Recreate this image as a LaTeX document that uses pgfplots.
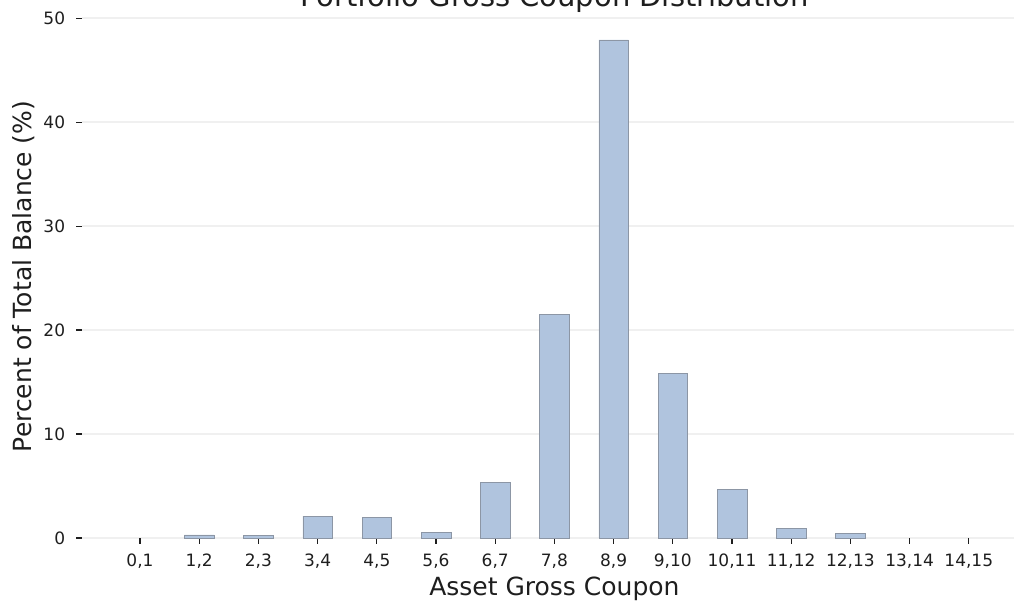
\documentclass[border=0pt]{standalone}
\usepackage{fontspec}
\setmainfont{DejaVu Sans}
\usepackage{pgfplots}
\pgfplotsset{compat=1.18}
\definecolor{barfill}{RGB}{176,196,222}
\definecolor{baredge}{RGB}{140,150,165}
\definecolor{gridc}{RGB}{240,240,240}
\definecolor{txt}{RGB}{30,30,30}
\begin{document}
\begin{tikzpicture}
\begin{axis}[
  scale only axis, width=944.2pt, height=523pt,
  xmin=-0.975, xmax=14.975, ymin=0, ymax=50.3,
  ybar, bar width=0.5, bar shift=0pt,
  xtick={0,...,14},
  xticklabels={{0,1},{1,2},{2,3},{3,4},{4,5},{5,6},{6,7},{7,8},{8,9},{9,10},{10,11},{11,12},{12,13},{13,14},{14,15}},
  ytick={0,10,20,30,40,50},
  tick align=outside, major tick length=6pt,
  tick style={color=txt, line width=1.1pt},
  tick pos=left,
  axis line style={draw=none},
  ymajorgrids, grid style={gridc, line width=1.6pt},
  /pgf/number format/assume math mode=true,
  ticklabel style={font=\fontsize{17pt}{20pt}\selectfont, text=txt},
  yticklabel style={anchor=east, inner sep=0pt, xshift=-11pt},
  xticklabel style={anchor=north, inner sep=0pt, yshift=-10pt},
  title={Portfolio Gross Coupon Distribution},
  title style={at={(axis description cs:0.5,1)}, anchor=base, yshift=2pt, font=\fontsize{29pt}{34pt}\selectfont, text=txt},
  xlabel={Asset Gross Coupon},
  xlabel style={at={(axis description cs:0.5,0)}, anchor=base, yshift=-58pt, font=\fontsize{25pt}{30pt}\selectfont, text=txt},
  ylabel={Percent of Total Balance (\%)},
  ylabel style={at={(axis description cs:0,0.5)}, anchor=base, yshift=51pt, font=\fontsize{25pt}{30pt}\selectfont, text=txt},
  clip=false,
]
% zero-height bars (0,1), (13,14), (14,15) are invisible in the reference
\addplot[fill=barfill, draw=baredge, line width=0.6pt] coordinates {
(1,0.3) (2,0.25) (3,2.1) (4,2.0) (5,0.55) (6,5.38) (7,21.5) (8,47.9) (9,15.8) (10,4.68) (11,0.93) (12,0.45)
};
\end{axis}
\pgfresetboundingbox
\useasboundingbox (-82.3pt,-63pt) rectangle (931.7pt,538pt);
\end{tikzpicture}
\end{document}
